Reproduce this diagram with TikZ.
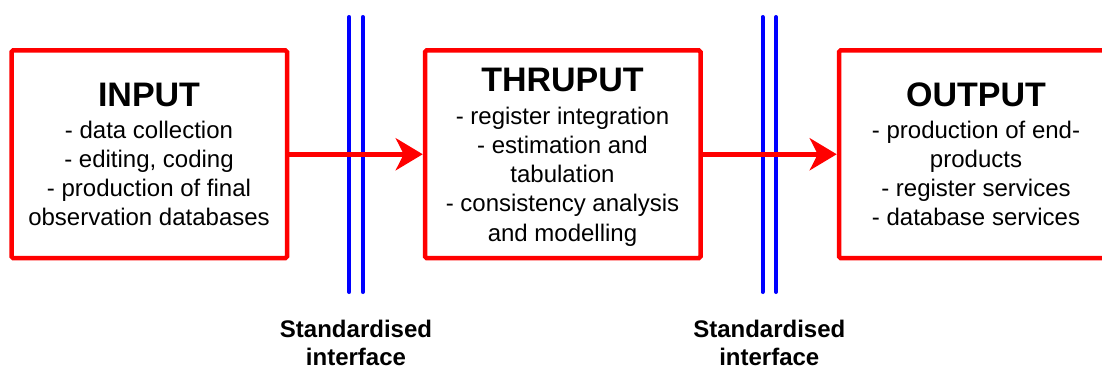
\documentclass[tikz,border=0pt]{standalone}
\usepackage{fontspec}
\setmainfont{Liberation Sans}
\usetikzlibrary{arrows.meta}
\definecolor{boxred}{RGB}{255,0,0}
\definecolor{ifblue}{RGB}{0,0,255}
\tikzset{
  stagebox/.style={draw=boxred, line width=4.5pt, rounded corners=1.5pt,
    minimum width=275.5pt, minimum height=207.5pt, inner sep=0pt, fill=none},
  stagetitle/.style={font={\fontsize{34}{40}\selectfont\bfseries}, inner sep=0pt, anchor=base},
  stagebody/.style={font={\fontsize{24}{29.2}\selectfont}, align=center, inner sep=0pt, anchor=north},
  flow/.style={draw=boxred, line width=4.5pt, -{Stealth[length=27pt, width=32pt, inset=8pt]}},
  iface/.style={draw=ifblue, line width=4pt, line cap=round},
  ifacelabel/.style={font={\fontsize{24}{28}\selectfont\bfseries}, align=center, inner sep=0pt, anchor=north}
}
\begin{document}
\begin{tikzpicture}[x=1pt, y=-1pt]
\useasboundingbox (0,0) rectangle (1102,369);
\clip (0,0) rectangle (1102,369);
% interfaces
\coordinate (a1t) at (349.3,17);  \coordinate (a1b) at (349.3,292);
\coordinate (a2t) at (362.8,17);  \coordinate (a2b) at (362.8,292);
\coordinate (b1t) at (762.5,17);  \coordinate (b1b) at (762.5,292);
\coordinate (b2t) at (776.0,17);  \coordinate (b2b) at (776.0,292);
\draw[iface] (a1t) -- (a1b);
\draw[iface] (a2t) -- (a2b);
\draw[iface] (b1t) -- (b1b);
\draw[iface] (b2t) -- (b2b);
\node[ifacelabel] (la) at (356,320) {Standardised\\interface};
\node[ifacelabel] (lb) at (769.3,320) {Standardised\\interface};
% boxes
\node[stagebox] (in)  at (149.25,154.25) {};
\node[stagebox] (thr) at (562.75,154.25) {};
\node[stagebox] (out) at (976.75,154.25) {};
% arrows
\draw[flow] (in.east) -- (thr.west);
\draw[flow] (thr.east) -- (out.west);
% texts
\node[stagetitle] (inT) at (149,106) {INPUT};
\node[stagebody] (inB) at (149,120.8) {- data collection\\- editing, coding\\- production of final\\observation databases};
\node[stagetitle] (thrT) at (562.5,92) {THRUPUT};
\node[stagebody] (thrB) at (562.5,106.8) {- register integration\\- estimation and\\tabulation\\- consistency analysis\\and modelling};
\node[stagetitle] (outT) at (976,106) {OUTPUT};
\node[stagebody] (outB) at (976,120.8) {- production of end-\\products\\- register services\\- database services};
\end{tikzpicture}
\end{document}
